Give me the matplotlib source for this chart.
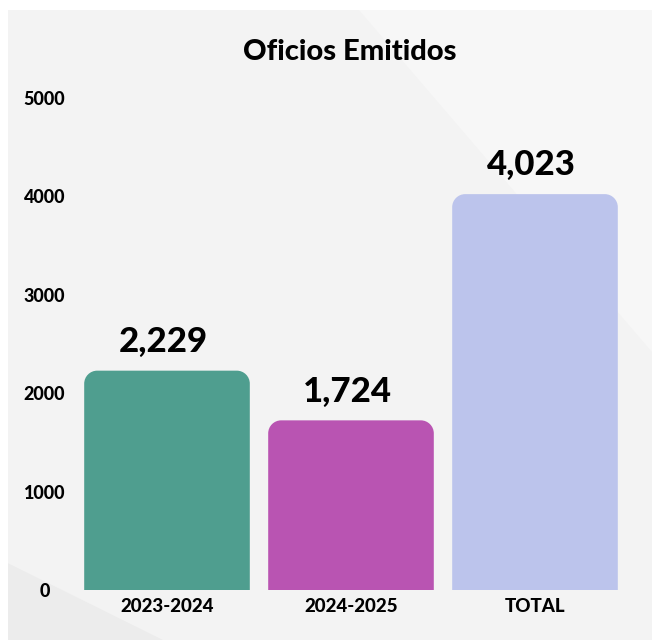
import matplotlib.pyplot as plt
from matplotlib.patches import Rectangle, Polygon, PathPatch
from matplotlib.path import Path

categories = ["2023-2024", "2024-2025", "TOTAL"]
values = [2229, 1724, 4023]
colors = ["#4F9E8F", "#B954B2", "#BCC4EC"]
yticks = [0, 1000, 2000, 3000, 4000, 5000]

plt.rcParams["font.family"] = ["Lato", "DejaVu Sans"]

fig = plt.figure(figsize=(6.52, 6.40), dpi=100)
fig.patch.set_facecolor("white")

# background: light gray panel with faint diagonal shapes
bg = fig.add_axes([0, 0, 1, 1], zorder=-1)
bg.set_xlim(0, 1)
bg.set_ylim(0, 1)
bg.axis("off")
bg.add_patch(Rectangle((8 / 652, 0), 1, 630 / 640, facecolor="#f3f3f3", edgecolor="none"))
bg.add_patch(Polygon([(0.55, 630 / 640), (1.0, 630 / 640), (1.0, 0.45)], closed=True,
                     facecolor="#f7f7f7", edgecolor="none"))
bg.add_patch(Polygon([(8 / 652, 0.12), (0.25, 0.0), (8 / 652, 0.0)], closed=True,
                     facecolor="#ececec", edgecolor="none"))

ax = fig.add_axes([75 / 652, 50 / 640, 552 / 652, 492 / 640])
ax.set_facecolor("none")
ax.set_xlim(-0.5, 2.5)
ax.set_ylim(0, 5000)


def top_rounded(x0, w, h, rx, ry):
    k = 0.5523
    verts = [(x0, 0), (x0, h - ry),
             (x0, h - ry + k * ry), (x0 + rx - k * rx, h), (x0 + rx, h),
             (x0 + w - rx, h),
             (x0 + w - rx + k * rx, h), (x0 + w, h - ry + k * ry), (x0 + w, h - ry),
             (x0 + w, 0), (x0, 0)]
    codes = [Path.MOVETO, Path.LINETO,
             Path.CURVE4, Path.CURVE4, Path.CURVE4,
             Path.LINETO,
             Path.CURVE4, Path.CURVE4, Path.CURVE4,
             Path.LINETO, Path.CLOSEPOLY]
    return Path(verts, codes)


width = 0.9
rx = 13 / 184.3
ry = 13 * 5000 / 492
for i, (v, c) in enumerate(zip(values, colors)):
    ax.add_patch(PathPatch(top_rounded(i - width / 2, width, v, rx, ry),
                           facecolor=c, edgecolor="none"))
    ax.text(i - 0.02, v + 130, f"{v:,}", ha="center", va="bottom", fontsize=25, fontweight="black")

ax.set_xticks(range(len(categories)))
ax.set_xticklabels(categories, fontsize=13.5, fontweight="black")
ax.set_yticks(yticks)
ax.set_yticklabels([str(t) for t in yticks], fontsize=13, fontweight="black")
for lab in ax.get_yticklabels():
    lab.set_horizontalalignment("center")
ax.tick_params(axis="y", length=0, pad=22)
ax.tick_params(axis="x", length=0, pad=6)
for s in ax.spines.values():
    s.set_visible(False)

fig.text(350 / 652, 1 - 52 / 640, "Oficios Emitidos", ha="center", va="center",
         fontsize=21, fontweight="black")

fig.savefig("out.png", dpi=100)
